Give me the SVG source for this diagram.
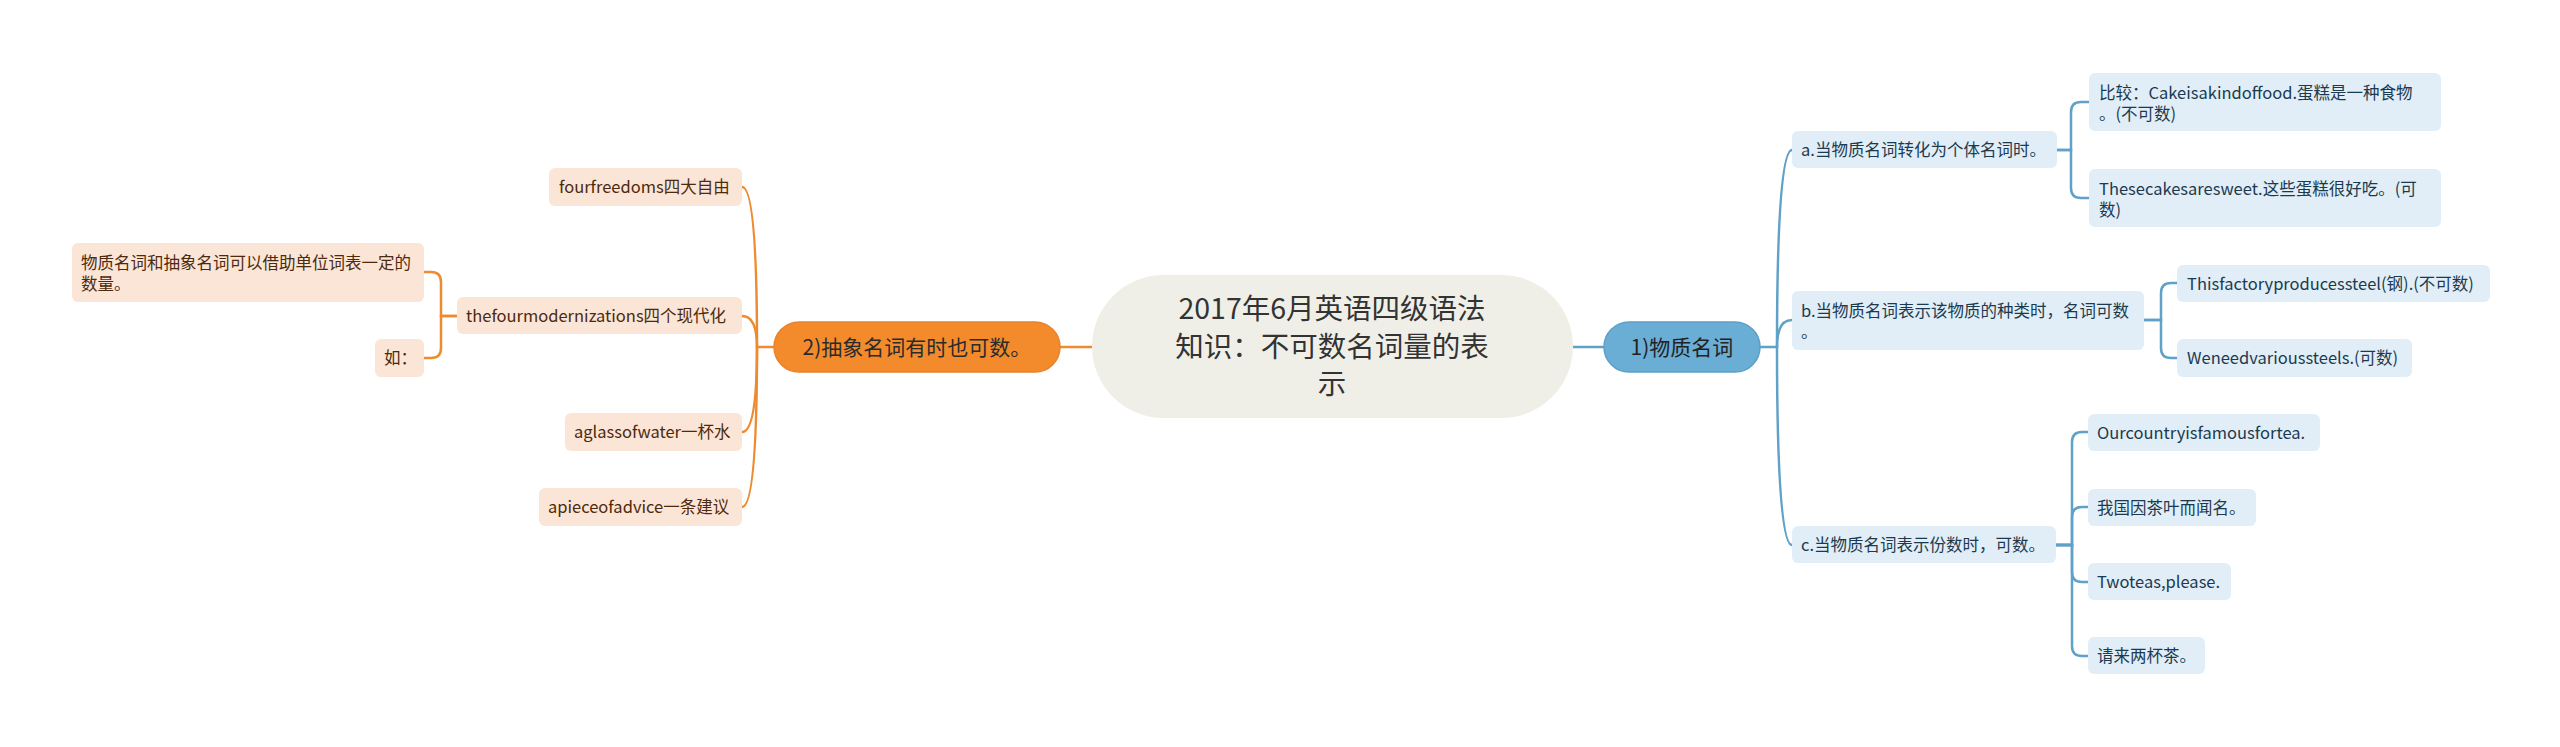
<svg xmlns="http://www.w3.org/2000/svg" width="2560" height="747" viewBox="0 0 2560 747">
<style>
text{font-family:"Noto Sans CJK SC","Noto Sans",sans-serif;}
.t16{font-size:16.5px;}
.blue-line{fill:none;stroke:#60a1c7;stroke-width:2.5;stroke-linecap:round;}
.orange-line{fill:none;stroke:#ee8a30;stroke-width:2.5;stroke-linecap:round;}
.lb{fill:#e1eef7;}
.lo{fill:#fbe5d6;}
.tb{fill:#1c3a4f;}
.to{fill:#4d2a0e;}
</style>
<rect width="2560" height="747" fill="#ffffff"/>
<g id="connectors">
  <path class="blue-line" d="M1573,347 H1604"/>
  <path class="blue-line" d="M1760,347 H1777"/>
  <path class="blue-line" d="M1777,347 Q1777,150 1792,150"/>
  <path class="blue-line" d="M1777,347 Q1777,320 1792,320"/>
  <path class="blue-line" d="M1777,347 Q1777,545 1792,545"/>
  <path class="blue-line" d="M2057,150 H2071 V112 Q2071,102 2081,102 H2089"/>
  <path class="blue-line" d="M2057,150 H2071 V188 Q2071,198 2081,198 H2089"/>
  <path class="blue-line" d="M2144,320 H2161 V293 Q2161,283 2171,283 H2177"/>
  <path class="blue-line" d="M2144,320 H2161 V348 Q2161,358 2171,358 H2177"/>
  <path class="blue-line" d="M2056,545 H2072 V442 Q2072,432 2082,432 H2088"/>
  <path class="blue-line" d="M2056,545 H2072 V517 Q2072,507 2082,507 H2088"/>
  <path class="blue-line" d="M2056,545 H2072 V572 Q2072,582 2082,582 H2088"/>
  <path class="blue-line" d="M2056,545 H2072 V646 Q2072,656 2082,656 H2088"/>
  <path class="orange-line" d="M1092,347 H1060"/>
  <path class="orange-line" d="M774,347 H757"/>
  <path class="orange-line" d="M757,347 Q757,187 742,187"/>
  <path class="orange-line" d="M757,347 Q757,316 742,316"/>
  <path class="orange-line" d="M757,347 Q757,432 742,432"/>
  <path class="orange-line" d="M757,347 Q757,507 742,507"/>
  <path class="orange-line" d="M457,316 H441 V282 Q441,272 431,272 H424"/>
  <path class="orange-line" d="M457,316 H441 V348 Q441,358 431,358 H424"/>
</g>
<g id="center">
  <rect x="1092" y="275" width="481" height="143" rx="71.5" fill="#f0efe7"/>
  <text x="1332" y="319" font-size="28.5" fill="#333333" text-anchor="middle">2017年6月英语四级语法</text>
  <text x="1332" y="356.5" font-size="28.5" fill="#333333" text-anchor="middle">知识：不可数名词量的表</text>
  <text x="1332" y="394" font-size="28.5" fill="#333333" text-anchor="middle">示</text>
</g>
<g id="n1">
  <rect x="1604" y="322" width="156" height="50" rx="25" fill="#6aadd5" stroke="#5d9fc6" stroke-width="1.5"/>
  <text x="1682" y="354.5" font-size="21" fill="#222222" text-anchor="middle">1)物质名词</text>
</g>
<g id="n2">
  <rect x="774" y="322" width="286" height="50" rx="25" fill="#f38b2c" stroke="#e9822a" stroke-width="1.5"/>
  <text x="917" y="354.5" font-size="21" fill="#2b2b2b" text-anchor="middle">2)抽象名词有时也可数。</text>
</g>
<g id="na">
  <rect class="lb" x="1792" y="131" width="265" height="37" rx="6"/>
  <text class="t16 tb" x="1801" y="155.5">a.当物质名词转化为个体名词时。</text>
</g>
<g id="na1">
  <rect class="lb" x="2089" y="73" width="352" height="58" rx="6"/>
  <text class="t16 tb" x="2099" y="98.5">比较：Cakeisakindoffood.蛋糕是一种食物</text>
  <text class="t16 tb" x="2099" y="119.5">。(不可数)</text>
</g>
<g id="na2">
  <rect class="lb" x="2089" y="169" width="352" height="58" rx="6"/>
  <text class="t16 tb" x="2099" y="194.5">Thesecakesaresweet.这些蛋糕很好吃。(可</text>
  <text class="t16 tb" x="2099" y="215.5">数)</text>
</g>
<g id="nb">
  <rect class="lb" x="1792" y="291" width="352" height="59" rx="6"/>
  <text class="t16 tb" x="1801" y="317">b.当物质名词表示该物质的种类时，名词可数</text>
  <text class="t16 tb" x="1801" y="338">。</text>
</g>
<g id="nb1">
  <rect class="lb" x="2177" y="265" width="313" height="37" rx="6"/>
  <text class="t16 tb" x="2187" y="289.5">Thisfactoryproducessteel(钢).(不可数)</text>
</g>
<g id="nb2">
  <rect class="lb" x="2177" y="339" width="235" height="38" rx="6"/>
  <text class="t16 tb" x="2187" y="364">Weneedvarioussteels.(可数)</text>
</g>
<g id="nc">
  <rect class="lb" x="1792" y="526" width="264" height="37" rx="6"/>
  <text class="t16 tb" x="1801" y="550.5">c.当物质名词表示份数时，可数。</text>
</g>
<g id="nc1">
  <rect class="lb" x="2088" y="414" width="232" height="37" rx="6"/>
  <text class="t16 tb" x="2097" y="438.5">Ourcountryisfamousfortea.</text>
</g>
<g id="nc2">
  <rect class="lb" x="2088" y="489" width="168" height="37" rx="6"/>
  <text class="t16 tb" x="2097" y="513.5">我国因茶叶而闻名。</text>
</g>
<g id="nc3">
  <rect class="lb" x="2088" y="563" width="143" height="37" rx="6"/>
  <text class="t16 tb" x="2097" y="587.5">Twoteas,please.</text>
</g>
<g id="nc4">
  <rect class="lb" x="2088" y="637" width="117" height="37" rx="6"/>
  <text class="t16 tb" x="2097" y="661.5">请来两杯茶。</text>
</g>
<g id="o1">
  <rect class="lo" x="549" y="168" width="193" height="38" rx="6"/>
  <text class="t16 to" x="559" y="193">fourfreedoms四大自由</text>
</g>
<g id="o2">
  <rect class="lo" x="457" y="297" width="285" height="37" rx="6"/>
  <text class="t16 to" x="466" y="321.5">thefourmodernizations四个现代化</text>
</g>
<g id="o21">
  <rect class="lo" x="72" y="243" width="352" height="59" rx="6"/>
  <text class="t16 to" x="81" y="269">物质名词和抽象名词可以借助单位词表一定的</text>
  <text class="t16 to" x="81" y="290">数量。</text>
</g>
<g id="o22">
  <rect class="lo" x="375" y="339" width="49" height="38" rx="6"/>
  <text class="t16 to" x="384" y="364">如：</text>
</g>
<g id="o3">
  <rect class="lo" x="565" y="413" width="177" height="38" rx="6"/>
  <text class="t16 to" x="574" y="438">aglassofwater一杯水</text>
</g>
<g id="o4">
  <rect class="lo" x="539" y="488" width="203" height="38" rx="6"/>
  <text class="t16 to" x="548" y="513">apieceofadvice一条建议</text>
</g>
</svg>
